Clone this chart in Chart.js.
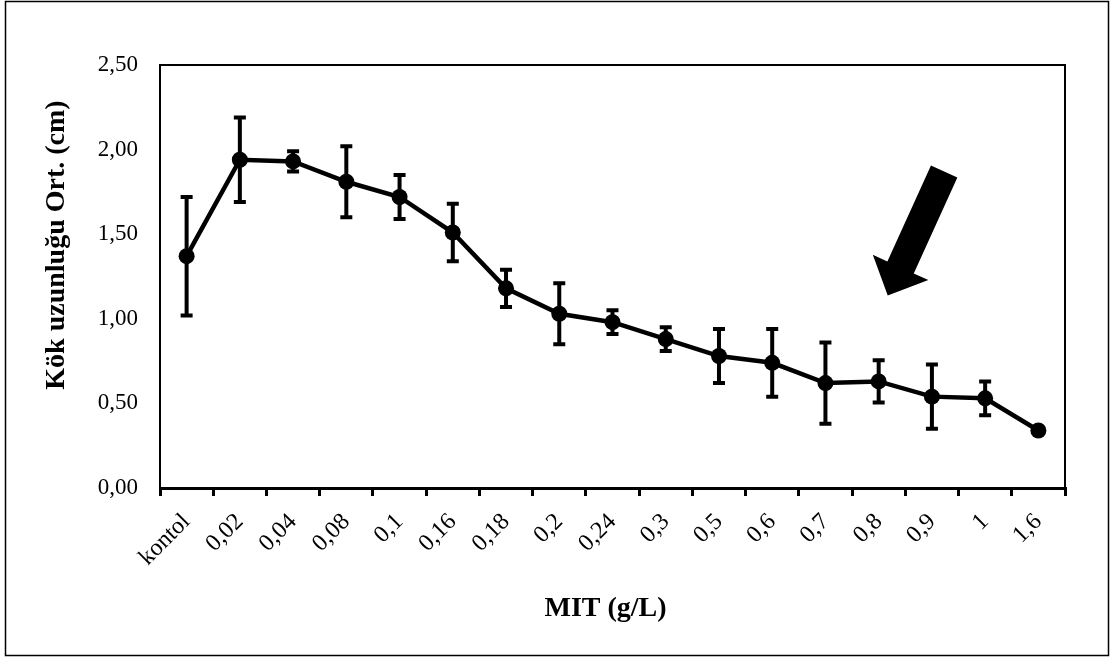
<!DOCTYPE html>
<html>
<head>
<meta charset="utf-8">
<script src="https://cdn.jsdelivr.net/npm/chart.js@4/dist/chart.umd.min.js"></script>
<style>
  body { margin: 0; background: #fff; }
  #wrap { width: 1115px; height: 659px; }
</style>
</head>
<body>
<div id="wrap"><canvas id="chart" width="1115" height="659"></canvas></div>
<script>
// categories (MIT concentration, g/L)
const categories = ['kontol', '0,02', '0,04', '0,08', '0,1', '0,16', '0,18', '0,2', '0,24',
                    '0,3', '0,5', '0,6', '0,7', '0,8', '0,9', '1', '1,6'];
// mean root length (cm)
const meanValues = [1.37, 1.94, 1.93, 1.81, 1.72, 1.51, 1.18, 1.03, 0.98,
                    0.88, 0.78, 0.74, 0.62, 0.63, 0.54, 0.53, 0.34];
// error (+/-)
const errorValues = [0.35, 0.25, 0.06, 0.21, 0.13, 0.17, 0.11, 0.18, 0.07,
                     0.07, 0.16, 0.20, 0.24, 0.125, 0.19, 0.10, 0.01];
const yTickLabels = ['0,00', '0,50', '1,00', '1,50', '2,00', '2,50'];
// arrow annotation, in data units (category index, y value)
const arrowFrom = [14.23, 1.87];
const arrowTo = [13.17, 1.137];

const FONT = "'Liberation Serif', 'Times New Roman', serif";

// draws the error bars with caps
const errorBars = {
    id: 'errorBars',
    afterDatasetsDraw(chart) {
        const ctx = chart.ctx;
        const x = chart.scales.x, y = chart.scales.y;
        ctx.save();
        ctx.strokeStyle = '#000';
        ctx.lineWidth = 4;
        meanValues.forEach((v, i) => {
            const e = errorValues[i];
            const px = x.getPixelForValue(i);
            const top = y.getPixelForValue(v + e);
            const bot = y.getPixelForValue(v - e);
            ctx.beginPath();
            ctx.moveTo(px, top); ctx.lineTo(px, bot);
            ctx.moveTo(px - 6, top); ctx.lineTo(px + 6, top);
            ctx.moveTo(px - 6, bot); ctx.lineTo(px + 6, bot);
            ctx.stroke();
        });
        ctx.restore();
    }
};

// plot box, outer frame and arrow
const decorations = {
    id: 'decorations',
    afterDraw(chart) {
        const ctx = chart.ctx;
        const a = chart.chartArea;
        ctx.save();
        ctx.strokeStyle = '#000';
        // top + right edge of plot area
        ctx.lineWidth = 2;
        ctx.beginPath();
        ctx.moveTo(a.left, a.top); ctx.lineTo(a.right, a.top); ctx.lineTo(a.right, a.bottom);
        ctx.stroke();
        // outer frame
        ctx.lineWidth = 1.5;
        ctx.strokeRect(5.5, 1.5, 1103, 654);

        // arrow
        const x = chart.scales.x, y = chart.scales.y;
        const tx = x.getPixelForValue(arrowFrom[0]), ty = y.getPixelForValue(arrowFrom[1]);
        const hx = x.getPixelForValue(arrowTo[0]), hy = y.getPixelForValue(arrowTo[1]);
        const len = Math.hypot(hx - tx, hy - ty);
        const dx = (hx - tx) / len, dy = (hy - ty) / len;
        const nx = -dy, ny = dx;
        const shaft = 14.5, head = 30.5, headLen = 31;
        const bx = hx - dx * headLen, by = hy - dy * headLen;
        ctx.fillStyle = '#000';
        ctx.beginPath();
        ctx.moveTo(tx + nx * shaft, ty + ny * shaft);
        ctx.lineTo(bx + nx * shaft, by + ny * shaft);
        ctx.lineTo(bx + nx * head, by + ny * head);
        ctx.lineTo(hx, hy);
        ctx.lineTo(bx - nx * head, by - ny * head);
        ctx.lineTo(bx - nx * shaft, by - ny * shaft);
        ctx.lineTo(tx - nx * shaft, ty - ny * shaft);
        ctx.closePath();
        ctx.fill();
        ctx.restore();
    }
};

new Chart(document.getElementById('chart'), {
    type: 'line',
    data: {
        labels: categories,
        datasets: [{
            data: meanValues,
            borderColor: '#000',
            borderWidth: 4.5,
            backgroundColor: '#000',
            pointRadius: 8,
            pointBorderWidth: 0,
            pointBackgroundColor: '#000',
            tension: 0
        }]
    },
    options: {
        responsive: false,
        animation: false,
        layout: { padding: { left: 0, top: 65, right: 50, bottom: 0 } },
        plugins: {
            legend: { display: false },
            tooltip: { enabled: false }
        },
        scales: {
            x: {
                offset: true,
                afterFit(scale) { scale.height = 171; },
                grid: {
                    offset: true,
                    drawOnChartArea: false,
                    drawTicks: true,
                    tickLength: 8,
                    lineWidth: 3,
                    color: '#000'
                },
                border: { display: true, color: '#000', width: 3 },
                ticks: {
                    color: '#000',
                    font: { family: FONT, size: 24 },
                    maxRotation: 45,
                    minRotation: 45,
                    autoSkip: false,
                    padding: 12
                },
                title: {
                    display: true,
                    text: 'MIT (g/L)  ',
                    color: '#000',
                    font: { family: FONT, size: 28, weight: 'bold' },
                    padding: { top: 0, bottom: 33 }
                }
            },
            y: {
                min: 0,
                max: 2.5,
                afterFit(scale) { scale.width = 160; },
                grid: { display: false, drawTicks: false },
                border: { display: true, color: '#000', width: 2 },
                ticks: {
                    stepSize: 0.5,
                    color: '#000',
                    font: { family: FONT, size: 23 },
                    padding: 22,
                    callback: (v, i) => yTickLabels[i]
                },
                title: {
                    display: true,
                    text: '         Kök uzunluğu Ort. (cm)',
                    color: '#000',
                    font: { family: FONT, size: 28, weight: 'bold' },
                    padding: { top: 40, bottom: 0 }
                }
            }
        }
    },
    plugins: [errorBars, decorations]
});
</script>
</body>
</html>
